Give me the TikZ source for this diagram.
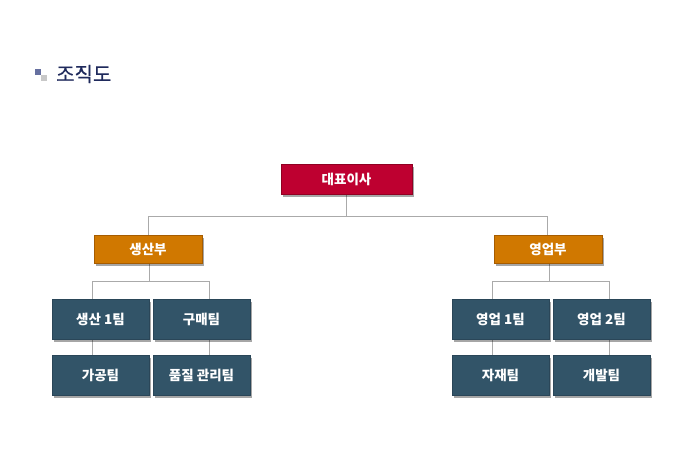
\documentclass[tikz,border=0pt]{standalone}
\usepackage{fontspec}
\setmainfont{Noto Sans CJK KR}
\newfontfamily\titlefont[FakeBold=0.6]{Noto Sans CJK KR}
\usetikzlibrary{shadows,backgrounds}
\definecolor{ceored}{HTML}{BE0030}
\definecolor{ceoredd}{HTML}{900022}
\definecolor{deporange}{HTML}{D07800}
\definecolor{deporanged}{HTML}{A65C00}
\definecolor{teamteal}{HTML}{325468}
\definecolor{teamteald}{HTML}{2A4658}
\definecolor{linegray}{HTML}{AAAAAA}
\definecolor{titlenavy}{HTML}{1F2A5C}
\tikzset{
  boxbase/.style={rectangle, inner sep=0pt, text=white, font=\fontsize{13.5}{15}\selectfont\bfseries,
    drop shadow={shadow xshift=2pt, shadow yshift=-2.5pt, opacity=0.35, fill=black}},
  ceobox/.style={boxbase, fill=ceored, draw=ceoredd, line width=0.8pt, minimum width=131pt, minimum height=30pt},
  depbox/.style={boxbase, fill=deporange, draw=deporanged, line width=0.8pt, minimum width=108pt, minimum height=28pt},
  teambox/.style={boxbase, fill=teamteal, draw=teamteald, line width=0.6pt, minimum width=97pt, minimum height=40pt},
  conn/.style={draw=linegray, line width=1pt},
}
\begin{document}
\begin{tikzpicture}[x=1pt,y=-1pt]
\useasboundingbox (0,0) rectangle (680,471);
% title
\fill[fill={rgb,255:red,102;green,112;blue,160}] (35,69) rectangle (41,75);
\fill[fill={rgb,255:red,200;green,200;blue,200}] (41,75) rectangle (47,81);
\node[anchor=west, text=titlenavy, font=\titlefont\fontsize{20}{24}\selectfont, inner sep=0pt] (title) at (56,74) {조직도};
% boxes
\node[ceobox] (ceo) at (346.5,179) {대표이사};
\node[depbox] (prod) at (148,249) {생산부};
\node[depbox] (sales) at (548,249) {영업부};
\node[teambox] (p1) at (100.5,319) {생산 1팀};
\node[teambox] (buy) at (201.5,319) {구매팀};
\node[teambox] (proc) at (100.5,375) {가공팀};
\node[teambox] (qual) at (201.5,375) {품질 관리팀};
\node[teambox] (s1) at (500.5,319) {영업 1팀};
\node[teambox] (s2) at (601.5,319) {영업 2팀};
\node[teambox] (mat) at (500.5,375) {자재팀};
\node[teambox] (dev) at (601.5,375) {개발팀};
% junction coordinates
\coordinate (jtop) at (346.5,216);
\coordinate (jl) at (148,216);
\coordinate (jr) at (547,216);
\coordinate (pl) at (92,281);
\coordinate (pm) at (149.5,281);
\coordinate (pr) at (209,281);
\coordinate (sl) at (492,281);
\coordinate (sm) at (549.5,281);
\coordinate (sr) at (609,281);
% connectors (behind boxes)
\begin{scope}[on background layer]
\draw[conn] (ceo.south) -- (jtop);
\draw[conn] (jl) -- (jr);
\draw[conn] (jl) -- (prod.north);
\draw[conn] (jr) -- (jr |- sales.north);
\draw[conn] (pm |- prod.south) -- (pm);
\draw[conn] (pl) -- (pr);
\draw[conn] (pl) -- (pl |- proc.north);
\draw[conn] (pr) -- (pr |- qual.north);
\draw[conn] (sm |- sales.south) -- (sm);
\draw[conn] (sl) -- (sr);
\draw[conn] (sl) -- (sl |- mat.north);
\draw[conn] (sr) -- (sr |- dev.north);
\end{scope}
\end{tikzpicture}
\end{document}
